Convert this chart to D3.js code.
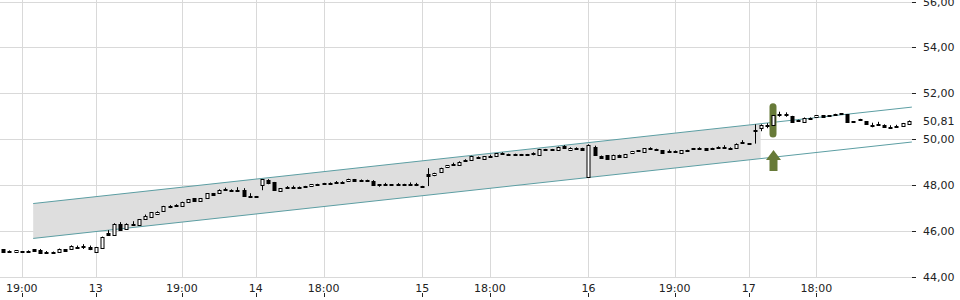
<!DOCTYPE html>
<html>
<head>
<meta charset="utf-8">
<script src="https://cdn.jsdelivr.net/npm/d3@7"></script>
<style>
  html, body { margin: 0; padding: 0; background: #fff; }
  svg text { font-family: "DejaVu Sans", sans-serif; font-size: 11px; fill: #222; }
</style>
</head>
<body>
<svg width="960" height="300"></svg>
<script>
// candle data, one entry per bar
const opens = [45.20,45.15,45.07,45.12,45.15,45.20,45.17,45.07,45.10,45.09,45.20,45.20,45.30,45.33,45.29,45.10,45.27,45.91,45.83,46.30,
  46.07,46.32,46.27,46.51,46.62,46.74,46.88,47.09,47.14,47.10,47.25,47.42,47.33,47.42,47.65,47.64,47.82,47.81,47.80,47.78,
  47.53,47.52,47.99,48.22,48.13,47.75,47.89,47.92,47.93,47.96,47.96,48.05,48.09,48.11,48.13,48.12,48.16,48.26,48.24,48.23,
  48.16,48.03,48.05,48.04,48.04,48.05,48.07,48.04,47.96,48.50,48.45,48.58,48.77,48.91,48.90,49.07,49.09,49.24,49.16,49.27,
  49.26,49.39,49.36,49.36,49.35,49.35,49.39,49.33,49.57,49.57,49.52,49.70,49.55,49.56,49.62,48.35,49.67,49.28,49.30,49.14,
  49.32,49.22,49.38,49.52,49.45,49.59,49.58,49.51,49.49,49.50,49.41,49.53,49.61,49.64,49.61,49.62,49.68,49.68,49.64,49.60,
  49.85,49.82,50.41,50.49,50.64,50.61,51.08,51.08,51.01,50.84,50.73,50.94,50.96,51.04,51.04,51.10,51.13,51.09,50.78,50.88,
  50.78,50.62,50.66,50.64,50.53,50.56,50.58,50.66];
const highs = [45.21,45.16,45.17,45.13,45.16,45.21,45.22,45.13,45.11,45.24,45.21,45.38,45.37,45.43,45.37,45.31,45.76,46.04,46.34,46.39,
  46.34,46.43,46.52,46.72,46.82,46.86,47.10,47.13,47.17,47.28,47.40,47.43,47.44,47.65,47.66,47.82,47.89,47.82,47.91,47.87,
  47.65,47.53,48.27,48.26,48.14,47.87,47.96,47.98,47.94,47.97,48.05,48.06,48.10,48.12,48.18,48.17,48.28,48.27,48.25,48.24,
  48.22,48.04,48.10,48.05,48.09,48.06,48.12,48.10,47.97,48.74,48.54,48.76,48.87,48.98,49.04,49.13,49.28,49.25,49.27,49.33,
  49.39,49.43,49.37,49.37,49.36,49.36,49.43,49.58,49.58,49.58,49.68,49.74,49.65,49.65,49.63,49.78,49.72,49.29,49.31,49.33,
  49.33,49.36,49.49,49.53,49.61,49.65,49.59,49.52,49.55,49.51,49.53,49.54,49.62,49.65,49.62,49.63,49.69,49.74,49.65,49.82,
  49.96,49.83,50.65,50.65,50.70,51.05,51.20,51.17,51.02,50.85,50.95,50.95,51.05,51.05,51.05,51.11,51.14,51.10,50.79,50.89,
  50.79,50.72,50.76,50.65,50.61,50.63,50.71,50.82];
const lows = [45.10,45.06,45.06,45.10,45.10,45.12,45.02,45.07,45.09,45.08,45.12,45.19,45.30,45.22,45.17,45.09,45.26,45.82,45.82,46.01,
  46.06,46.26,46.26,46.50,46.61,46.73,46.87,47.00,47.10,47.09,47.24,47.31,47.32,47.41,47.57,47.63,47.82,47.72,47.74,47.51,
  47.51,47.50,47.78,48.04,47.80,47.72,47.89,47.92,47.91,47.89,47.95,48.03,48.02,48.08,48.13,48.07,48.15,48.18,48.21,48.15,
  47.98,47.93,48.05,48.01,48.04,48.02,48.02,47.96,47.94,47.96,48.39,48.57,48.76,48.85,48.89,49.07,49.08,49.20,49.15,49.27,
  49.25,49.35,49.32,49.32,49.31,49.33,49.30,49.32,49.55,49.51,49.51,49.59,49.54,49.55,49.54,48.34,49.28,49.16,49.12,49.13,
  49.21,49.21,49.37,49.46,49.44,49.59,49.50,49.39,49.49,49.48,49.40,49.50,49.56,49.56,49.53,49.59,49.64,49.59,49.57,49.59,
  49.85,49.80,49.81,50.35,50.48,50.60,50.98,50.98,50.74,50.77,50.72,50.89,50.95,50.98,50.99,51.06,51.08,50.72,50.72,50.82,
  50.64,50.52,50.66,50.51,50.53,50.56,50.57,50.65];
const closes = [45.11,45.07,45.17,45.11,45.11,45.13,45.04,45.08,45.10,45.24,45.13,45.37,45.31,45.32,45.24,45.30,45.75,45.83,46.33,46.04,
  46.33,46.33,46.51,46.67,46.81,46.85,47.09,47.06,47.11,47.27,47.39,47.32,47.43,47.64,47.58,47.81,47.83,47.73,47.75,47.52,
  47.52,47.51,48.25,48.10,47.81,47.86,47.90,47.93,47.92,47.90,48.04,48.04,48.03,48.09,48.14,48.12,48.27,48.19,48.22,48.16,
  48.01,47.99,48.06,48.02,48.05,48.03,48.07,48.01,47.95,48.39,48.53,48.75,48.86,48.86,49.03,49.08,49.27,49.21,49.26,49.28,
  49.38,49.36,49.33,49.33,49.32,49.34,49.36,49.57,49.56,49.52,49.67,49.60,49.64,49.64,49.55,49.74,49.33,49.17,49.13,49.32,
  49.22,49.35,49.48,49.47,49.60,49.60,49.51,49.40,49.50,49.49,49.52,49.51,49.57,49.57,49.54,49.60,49.65,49.60,49.58,49.81,
  49.86,49.81,50.42,50.64,50.64,51.04,51.09,51.07,50.75,50.78,50.94,50.90,51.04,50.99,51.00,51.07,51.09,50.73,50.73,50.83,
  50.65,50.62,50.67,50.52,50.54,50.57,50.70,50.81];

// x axis labels (bar index where each label sits)
const xTickIdx = [3, 15, 29, 41, 52, 68, 79, 95, 109, 121, 132];
const xTickLabels = ["19:00", "13", "19:00", "14", "18:00", "15", "18:00", "16", "19:00", "17", "18:00"];
const yTicks = [44, 46, 48, 50, 52, 54, 56];

// trend channel: start/end bar index and prices on both edges
const channelIdx = [4.85, 147.5];
const channelUpper = [47.20, 51.40];
const channelLower = [45.68, 49.88];
const channelShadeEnd = 122.95;

// buy signal
const signalIdx = 125;

const svg = d3.select("svg");
const bars = d3.range(closes.length).map(i => ({
  i: i, o: opens[i], h: highs[i], l: lows[i], c: closes[i]
}));

const x = d3.scaleLinear().domain([0, 147]).range([3.3, 908.8]);
const y = d3.scaleLinear().domain([44, 56]).range([277, 1.5]);
const plotRight = 912;

const locale = d3.formatLocale({ decimal: ",", thousands: ".", grouping: [3], currency: ["", "€"] });
const fmt = locale.format(".2f");
const crisp = v => Math.round(v) + 0.5;

// grid
const grid = svg.append("g");
grid.selectAll(".hgrid")
  .data(yTicks)
  .join("line")
  .attr("x1", 0).attr("x2", plotRight)
  .attr("y1", d => crisp(y(d))).attr("y2", d => crisp(y(d)))
  .attr("stroke", "#d9d9d9");
grid.selectAll(".vgrid")
  .data(xTickIdx)
  .join("line")
  .attr("x1", d => crisp(x(d))).attr("x2", d => crisp(x(d)))
  .attr("y1", 0).attr("y2", crisp(y(44)))
  .attr("stroke", "#d9d9d9");

// channel
const lineAt = (arr, idx) => arr[0] + (arr[1] - arr[0]) * (idx - channelIdx[0]) / (channelIdx[1] - channelIdx[0]);
const shade = [
  [x(channelIdx[0]), y(channelUpper[0])],
  [x(channelShadeEnd), y(lineAt(channelUpper, channelShadeEnd))],
  [x(channelShadeEnd), y(lineAt(channelLower, channelShadeEnd))],
  [x(channelIdx[0]), y(channelLower[0])]
];
svg.append("path")
  .attr("d", "M" + shade.join("L") + "Z")
  .attr("fill", "#dedede");

[channelUpper, channelLower].forEach(arr => {
  svg.append("line")
    .attr("x1", x(channelIdx[0])).attr("y1", y(arr[0]))
    .attr("x2", x(channelIdx[1])).attr("y2", y(arr[1]))
    .attr("stroke", "#5c9ea3")
    .attr("stroke-width", 1);
});

// signal pill behind the signal candle
const sb = bars[signalIdx];
const sx = Math.round(x(signalIdx));
svg.append("rect")
  .attr("x", sx - 3.5).attr("width", 7)
  .attr("y", y(sb.h) - 12).attr("height", y(sb.l) - y(sb.h) + 24)
  .attr("rx", 3.5)
  .attr("fill", "#677a38");

// candles
const candles = svg.append("g");
candles.selectAll(".wick")
  .data(bars)
  .join("line")
  .attr("x1", d => Math.round(x(d.i)) + 0.5)
  .attr("x2", d => Math.round(x(d.i)) + 0.5)
  .attr("y1", d => y(d.h)).attr("y2", d => y(d.l))
  .attr("stroke", "#000");
candles.selectAll(".body")
  .data(bars)
  .join("rect")
  .attr("x", d => Math.round(x(d.i)) - 1)
  .attr("width", 3)
  .attr("y", d => Math.round(y(Math.max(d.o, d.c))) + 0.5)
  .attr("height", d => Math.max(1, Math.round(y(Math.min(d.o, d.c))) - Math.round(y(Math.max(d.o, d.c)))))
  .attr("fill", d => d.c >= d.o ? "#fff" : "#000")
  .attr("stroke", "#000");

// arrow under the signal
const tip = y(sb.l) + 24.5;
svg.append("path")
  .attr("d", `M${sx + 0.5},${tip} L${sx + 8},${tip + 10} L${sx + 4.5},${tip + 10} L${sx + 4.5},${tip + 21} L${sx - 3.5},${tip + 21} L${sx - 3.5},${tip + 10} L${sx - 7},${tip + 10} Z`)
  .attr("fill", "#677a38");

// right axis
const yAxis = svg.append("g");
yAxis.selectAll(".ytick")
  .data(yTicks)
  .join("line")
  .attr("x1", plotRight).attr("x2", plotRight + 4)
  .attr("y1", d => crisp(y(d))).attr("y2", d => crisp(y(d)))
  .attr("stroke", "#222");
yAxis.selectAll(".ylabel")
  .data(yTicks)
  .join("text")
  .attr("x", 923)
  .attr("y", d => y(d) + 4)
  .text(d => fmt(d));
yAxis.append("text")
  .attr("x", 923)
  .attr("y", y(closes[closes.length - 1]) + 4)
  .text(fmt(closes[closes.length - 1]));

// bottom axis
const xAxis = svg.append("g");
xAxis.selectAll(".xlabel")
  .data(xTickIdx)
  .join("text")
  .attr("x", d => x(d))
  .attr("y", 291.5)
  .attr("text-anchor", "middle")
  .text((d, i) => xTickLabels[i]);
xAxis.selectAll(".xtick")
  .data(xTickIdx)
  .join("line")
  .attr("x1", d => crisp(x(d))).attr("x2", d => crisp(x(d)))
  .attr("y1", 293).attr("y2", 297)
  .attr("stroke", "#222");
</script>
</body>
</html>
